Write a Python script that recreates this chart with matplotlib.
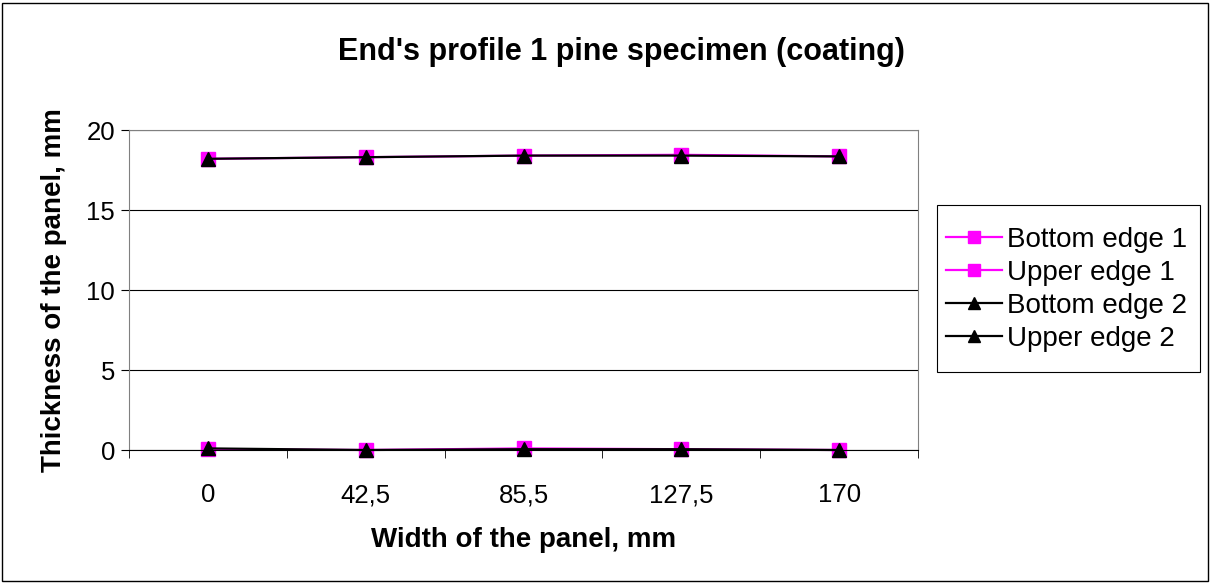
import matplotlib
matplotlib.use("Agg")
import matplotlib.pyplot as plt
from matplotlib.patches import Rectangle

plt.rcParams['font.family'] = ['Liberation Sans', 'DejaVu Sans']

categories = ["0", "42,5", "85,5", "127,5", "170"]
bottom_edge_1 = [0.05, 0.0, 0.1, 0.05, 0.0]
upper_edge_1 = [18.2, 18.3, 18.4, 18.45, 18.35]
bottom_edge_2 = [0.1, 0.0, 0.05, 0.05, 0.0]
upper_edge_2 = [18.2, 18.3, 18.4, 18.4, 18.35]

fig = plt.figure(figsize=(12.10, 5.83), dpi=100)
ax = fig.add_axes([129/1210, 1 - 450/583, (918-129)/1210, (450-130)/583])

x = list(range(len(categories)))
ax.plot(x, bottom_edge_1, color='#FF00FF', marker='s', markersize=10, lw=1.6, label='Bottom edge 1')
ax.plot(x, upper_edge_1, color='#FF00FF', marker='s', markersize=10, lw=1.6, label='Upper edge 1')
ax.plot(x, bottom_edge_2, color='black', marker='^', markersize=10, lw=1.6, label='Bottom edge 2')
ax.plot(x, upper_edge_2, color='black', marker='^', markersize=10, lw=1.6, label='Upper edge 2')

ax.set_xlim(-0.5, len(categories) - 0.5)
ax.set_ylim(0, 20)
ax.set_yticks([0, 5, 10, 15, 20])
ax.set_xticks(x)
ax.set_xticklabels(categories, fontsize=18.5)
ax.set_xticks([i - 0.5 for i in range(len(categories) + 1)], minor=True)
ax.tick_params(axis='x', which='major', length=0, pad=24)
ax.tick_params(axis='x', which='minor', length=6, direction='out', color='black')
ax.tick_params(axis='y', labelsize=18.5, length=6, direction='out', pad=4)
ax.grid(axis='y', color='black', lw=0.8)
ax.set_axisbelow(True)
for s in ['top', 'right']:
    ax.spines[s].set_color('#808080')
ax.spines['left'].set_color('#808080')
ax.spines['bottom'].set_color('black')
ax.spines['bottom'].set_zorder(3)
for line in ax.lines:
    line.set_clip_on(False)

ax.set_xlabel('Width of the panel, mm', fontsize=20, fontweight='bold', labelpad=14)
ax.set_ylabel('Thickness of the panel, mm', fontsize=20, fontweight='bold', labelpad=14)
fig.text(621/1210, 1 - 52/583, "End's profile 1 pine specimen (coating)", fontsize=22,
         fontweight='bold', ha='center', va='center')

leg = ax.legend(loc='upper left', bbox_to_anchor=(939/1210, 1 - 220/583),
                bbox_transform=fig.transFigure, fontsize=20, frameon=False,
                borderpad=0.25, labelspacing=0.25, markerscale=0.9,
                handlelength=2.0, handletextpad=0.2, borderaxespad=0)

fig.patches.append(Rectangle((937/1210, 1 - 372/583), (1200-937)/1210, (372-205)/583,
                             transform=fig.transFigure, fill=False, edgecolor='black', lw=0.8))
fig.patches.append(Rectangle((2/1210, 2/583), 1206/1210, 578/583, transform=fig.transFigure,
                             fill=False, edgecolor='black', lw=1))

fig.savefig('out.png', dpi=100)
